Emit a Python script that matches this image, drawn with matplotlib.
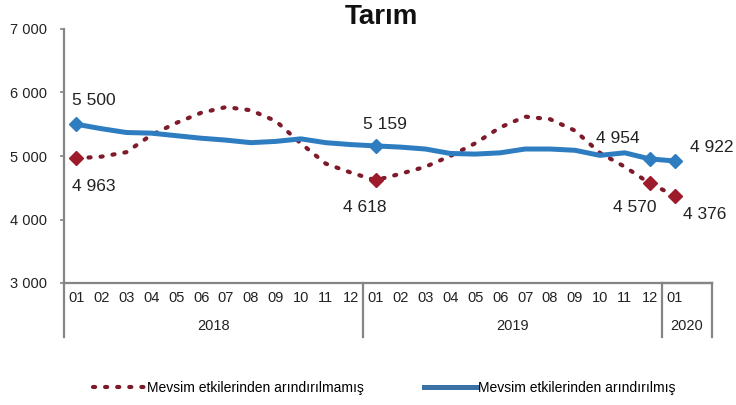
import matplotlib
matplotlib.use("Agg")
import matplotlib.pyplot as plt
from matplotlib.lines import Line2D
import matplotlib.transforms as mtransforms

plt.rcParams['font.family'] = ['Liberation Sans', 'DejaVu Sans']

months = ["01", "02", "03", "04", "05", "06", "07", "08", "09", "10", "11", "12",
          "01", "02", "03", "04", "05", "06", "07", "08", "09", "10", "11", "12",
          "01"]
years = ["2018", "2019", "2020"]
year_spans = [(0, 12), (12, 24), (24, 26)]  # category index ranges (26 slots, last empty)

unadjusted = [4963, 4990, 5060, 5330, 5520, 5680, 5770, 5720, 5550, 5200, 4880, 4740,
              4618, 4720, 4830, 5000, 5200, 5450, 5620, 5580, 5400, 5050, 4830, 4570,
              4376]
adjusted = [5500, 5430, 5370, 5360, 5320, 5280, 5250, 5210, 5230, 5270, 5210, 5180,
            5159, 5140, 5110, 5040, 5030, 5050, 5110, 5110, 5090, 5010, 5050, 4954,
            4922]
label_idx = [0, 12, 23, 24]

RED = "#9E1B2C"
DOT = "#7E1A2A"
BLUE = "#2F7DC1"
GREY = "#858585"

W, H = 736, 405
fig = plt.figure(figsize=(W / 100, H / 100), dpi=100)
ax = fig.add_axes([64 / W, 1 - 283 / H, (712 - 64) / W, (283 - 29) / H])

x = list(range(len(months)))
ax.plot(x, unadjusted, color=DOT, lw=3.0, linestyle=(0, (0.5, 2.4)),
        dash_capstyle='round', zorder=3)
ax.plot([x[i] for i in label_idx], [unadjusted[i] for i in label_idx],
        linestyle='none', marker='D', ms=7.5, color=RED, zorder=4)
ax.plot(x, adjusted, color=BLUE, lw=3.6, solid_capstyle='round',
        solid_joinstyle='round', zorder=3)
ax.plot([x[i] for i in label_idx], [adjusted[i] for i in label_idx],
        linestyle='none', marker='D', ms=7, color=BLUE, zorder=4)

ax.set_xlim(-0.5, 25.5)
ax.set_ylim(3000, 7000)
yt = [3000, 4000, 5000, 6000, 7000]
ax.set_yticks(yt)
ax.set_yticklabels([f"{v:,}".replace(",", " ") for v in yt], fontsize=10.5, color="#222222")
ax.tick_params(axis='y', length=3, width=1.2, color=GREY, pad=9)
ax.set_xticks([])
for s in ['top', 'right']:
    ax.spines[s].set_visible(False)
for s in ['left', 'bottom']:
    ax.spines[s].set_color(GREY)
    ax.spines[s].set_linewidth(1.6)

trans = mtransforms.blended_transform_factory(ax.transData, ax.transAxes)
axh = 283 - 29
for i, m in enumerate(months):
    ax.text(i, -(298 - 283) / axh, m, transform=trans, ha='center', va='center',
            fontsize=10.5, color="#222222")
for (a, b), yr in zip(year_spans, years):
    ax.text((a + b) / 2 - 0.5, -(326 - 283) / axh, yr, transform=trans, ha='center',
            va='center', fontsize=10.5, color="#222222")
for xs in [-0.5, 11.5, 23.5, 25.5]:
    ax.plot([xs, xs], [0, -(337 - 283) / axh], transform=trans, color=GREY,
            lw=1.6, clip_on=False)
ax.plot([23.5, 25.5], [0, 0], transform=trans, color=GREY, lw=1.6, clip_on=False)

def lab(series, i, dx, dy, ha='center'):
    v = series[i]
    ax.annotate(f"{v:,}".replace(",", " "), (i, v), xytext=(dx, dy),
                textcoords='offset pixels', ha=ha, va='center', fontsize=12.5,
                color="#222222")

lab(adjusted, 0, -4, 24, 'left')
lab(unadjusted, 0, -4, -28, 'left')
lab(adjusted, 12, 9, 21)
lab(unadjusted, 12, -11, -27)
lab(adjusted, 23, -32, 20)
lab(unadjusted, 23, -15, -24)
lab(adjusted, 24, 37, 13)
lab(unadjusted, 24, 30, -19)

fig.text(381 / W, 1 - 17 / H, "Tarım", ha='center', va='center', fontsize=20,
         fontweight='bold', color="#111111")

handles = [Line2D([], [], color=DOT, lw=3.0, linestyle=(0, (0.5, 2.4)),
                  dash_capstyle='round'),
           Line2D([], [], color="#3A72A6", lw=3.6)]
fig.legend(handles, ["Mevsim etkilerinden arındırılmamış",
                     "Mevsim etkilerinden arındırılmış"],
           loc='center', bbox_to_anchor=(0.522, 1 - 388 / H), ncol=2, frameon=False,
           fontsize=10, handlelength=3.8, handletextpad=0.1, columnspacing=4.3)

fig.savefig("out.png", dpi=100, facecolor='white')
